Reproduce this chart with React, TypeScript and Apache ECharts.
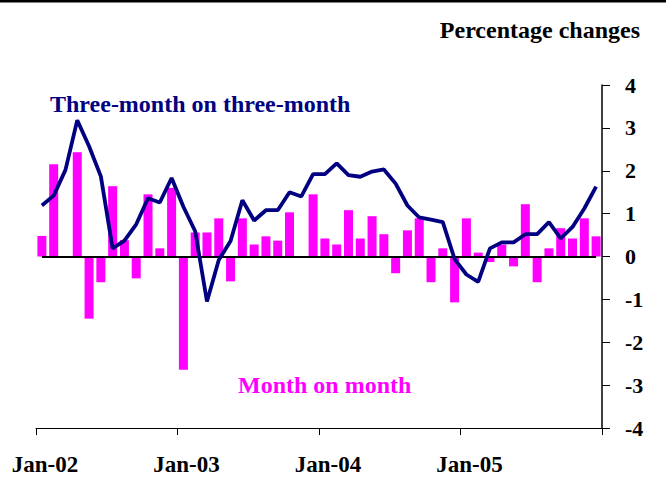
import React, { useEffect, useRef } from "react";
import * as echarts from "echarts";

const months: string[] = [
  "Jan-02", "Feb-02", "Mar-02", "Apr-02", "May-02", "Jun-02", "Jul-02", "Aug-02", "Sep-02", "Oct-02", "Nov-02", "Dec-02",
  "Jan-03", "Feb-03", "Mar-03", "Apr-03", "May-03", "Jun-03", "Jul-03", "Aug-03", "Sep-03", "Oct-03", "Nov-03", "Dec-03",
  "Jan-04", "Feb-04", "Mar-04", "Apr-04", "May-04", "Jun-04", "Jul-04", "Aug-04", "Sep-04", "Oct-04", "Nov-04", "Dec-04",
  "Jan-05", "Feb-05", "Mar-05", "Apr-05", "May-05", "Jun-05", "Jul-05", "Aug-05", "Sep-05", "Oct-05", "Nov-05", "Dec-05",
];

const monthOnMonth: number[] = [
  0.48, 2.15, -0.03, 2.43, -1.45, -0.6, 1.64, 0.38, -0.51, 1.45, 0.19, 1.6,
  -2.64, 0.56, 0.56, 0.89, -0.58, 0.89, 0.28, 0.47, 0.37, 1.03, 0.0, 1.45,
  0.42, 0.28, 1.08, 0.42, 0.94, 0.52, -0.39, 0.61, 0.89, -0.6, 0.19, -1.07,
  0.89, 0.09, -0.13, 0.28, -0.23, 1.22, -0.6, 0.19, 0.66, 0.42, 0.89, 0.47,
];

const threeOnThree: number[] = [
  1.19, 1.42, 2.02, 3.18, 2.57, 1.87, 0.19, 0.37, 0.75, 1.36, 1.26, 1.83,
  1.16, 0.59, -1.05, -0.08, 0.36, 1.31, 0.84, 1.08, 1.08, 1.5, 1.4, 1.92,
  1.92, 2.17, 1.9, 1.86, 1.98, 2.03, 1.7, 1.19, 0.91, 0.86, 0.8, -0.06,
  -0.42, -0.59, 0.19, 0.33, 0.33, 0.52, 0.52, 0.8, 0.42, 0.69, 1.12, 1.63,
];

const yTicks = { min: -4, max: 4, interval: 1 };

const FONT = '"Liberation Serif", "Times New Roman", serif';

export default function App() {
  const ref = useRef<HTMLDivElement>(null);
  useEffect(() => {
    if (!ref.current) return;
    const chart = echarts.init(ref.current, undefined, { renderer: "svg" });
    chart.setOption({
      animation: false,
      backgroundColor: "#ffffff",
      grid: { left: 36, right: 64, top: 85, bottom: 68 },
      xAxis: {
        type: "category",
        data: months,
        boundaryGap: true,
        position: "bottom",
        axisLine: { onZero: false, lineStyle: { color: "#000", width: 1 } },
        axisTick: {
          show: true,
          alignWithLabel: false,
          interval: (i: number) => i % 12 === 0,
          length: 7,
          lineStyle: { color: "#000", width: 1 },
        },
        axisLabel: {
          interval: (i: number) => i % 12 === 0,
          margin: 25,
          padding: [0, 0, 0, 6],
          color: "#000",
          fontFamily: FONT,
          fontWeight: "bold",
          fontSize: 23,
        },
        splitLine: { show: false },
      },
      yAxis: {
        type: "value",
        position: "right",
        min: yTicks.min,
        max: yTicks.max,
        interval: yTicks.interval,
        axisLine: { show: true, lineStyle: { color: "#000", width: 1.5 } },
        axisTick: { show: true, inside: false, length: 8, lineStyle: { color: "#000", width: 1 } },
        axisLabel: {
          margin: 23,
          color: "#000",
          fontFamily: FONT,
          fontWeight: "bold",
          fontSize: 22,
          align: "left",
        },
        splitLine: { show: false },
      },
      series: [
        {
          name: "Month on month",
          type: "bar",
          data: monthOnMonth,
          barWidth: 9,
          itemStyle: { color: "#ff00ff" },
          markLine: {
            silent: true,
            symbol: "none",
            label: { show: false },
            lineStyle: { color: "#000", width: 1.8, type: "solid" },
            data: [[{ coord: [months[0], 0] }, { coord: [months[months.length - 1], 0] }]],
          },
        },
        {
          name: "Three-month on three-month",
          type: "line",
          data: threeOnThree,
          showSymbol: false,
          symbol: "none",
          lineStyle: { color: "#000080", width: 3.8 },
          z: 5,
        },
      ],
      graphic: [
        { type: "rect", left: 0, top: 0, shape: { width: 666, height: 2.5 }, style: { fill: "#000" } },
        {
          type: "text",
          right: 26,
          top: 18,
          style: { text: "Percentage changes", fill: "#000", fontFamily: FONT, fontWeight: "bold", fontSize: 24 },
        },
        {
          type: "text",
          left: 50,
          top: 92,
          style: { text: "Three-month on three-month", fill: "#000080", fontFamily: FONT, fontWeight: "bold", fontSize: 24 },
        },
        {
          type: "text",
          left: 238,
          top: 373,
          style: { text: "Month on month", fill: "#ff00ff", fontFamily: FONT, fontWeight: "bold", fontSize: 24 },
        },
      ],
    });
    return () => chart.dispose();
  }, []);
  return <div ref={ref} style={{ position: "fixed", left: 0, top: 0, width: 666, height: 496 }} />;
}
